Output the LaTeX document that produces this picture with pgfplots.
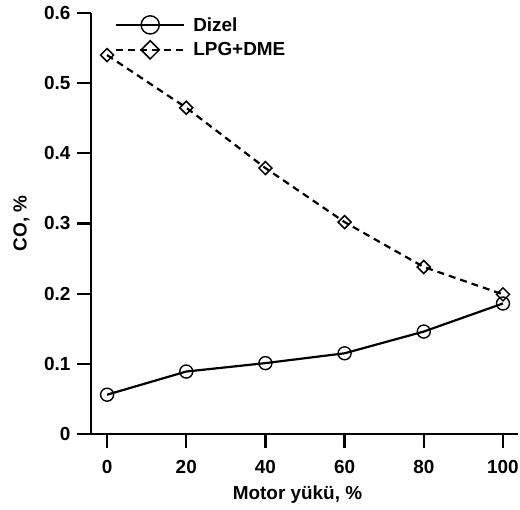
\documentclass[border=0pt]{standalone}
\usepackage{fontspec}
\setmainfont{Liberation Sans}
\usepackage{pgfplots}
\pgfplotsset{compat=1.18}
\begin{document}
\begin{tikzpicture}
\begin{axis}[
  scale only axis,
  width=441bp, height=421bp,
  xmin=-7.6, xmax=103.8,
  ymin=0, ymax=0.6,
  axis x line*=bottom, axis y line*=left,
  axis y line shift=-14bp,
  axis line style={line width=2.3bp, -},
  xtick={0,20,40,60,80,100},
  ytick={0,0.1,0.2,0.3,0.4,0.5,0.6},
  yticklabels={0,0.1,0.2,0.3,0.4,0.5,0.6},
  xticklabels={0,20,40,60,80,100},
  tick align=outside,
  major tick length=14bp,
  every tick/.style={line width=2.3bp, black},
  minor tick num=0,
  tick label style={font=\fontsize{19}{22}\selectfont\bfseries},
  xticklabel style={yshift=-9bp},
  yticklabel style={xshift=-3bp},
  xlabel={Motor yükü, \%},
  ylabel={CO, \%},
  every axis y label/.style={at={(axis description cs:-0.126,0.5)}, rotate=90, anchor=center, font=\fontsize{19}{22}\selectfont\bfseries},
  every axis x label/.style={at={(axis description cs:0.5,0)}, anchor=center, yshift=-61bp, font=\fontsize{19}{22}\selectfont\bfseries},
  legend style={draw=none, fill=none, at={(axis description cs:0.086,0.995)}, anchor=north west,
    font=\fontsize{19}{22}\selectfont\bfseries, row sep=6bp, column sep=6bp, inner sep=0pt},
  legend cell align=left,
  legend image code/.code={
    \draw[mark repeat=2,mark phase=2,#1, every mark/.append style={scale=1.4}] plot coordinates {(0bp,0bp) (34bp,0bp) (68bp,0bp)};
  },
]
\addplot[black, line width=2.2bp, mark=o, mark size=6.5bp, mark options={solid, line width=1.4bp, fill=white}]
  coordinates {(0,0.056) (20,0.089) (40,0.101) (60,0.115) (80,0.146) (100,0.186)};
\addlegendentry{Dizel}
\addplot[black, line width=2.2bp, dash pattern=on 7bp off 5bp, mark=square, mark size=4.6bp, mark options={solid, rotate=45, line width=1.5bp, fill=white}]
  coordinates {(0,0.540) (20,0.465) (40,0.379) (60,0.302) (80,0.238) (100,0.199)};
\addlegendentry{LPG+DME}
\end{axis}
\pgfresetboundingbox
\path ([shift={(-77bp,-76bp)}]current axis.south west) rectangle ([shift={(2bp,13bp)}]current axis.north east);
\end{tikzpicture}
\end{document}
